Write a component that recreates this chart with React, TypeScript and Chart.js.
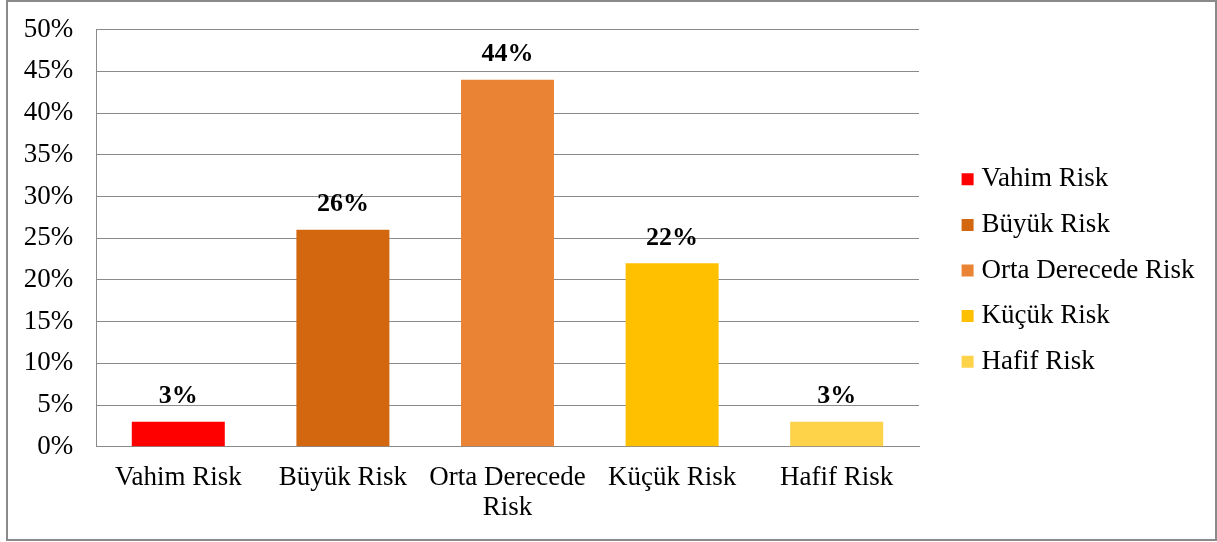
import React, { useEffect, useRef } from "react";
import { Chart, registerables } from "chart.js";

Chart.register(...registerables);

const categories: string[] = ["Vahim Risk", "Büyük Risk", "Orta Derecede Risk", "Küçük Risk", "Hafif Risk"];
const xTickLabels: string[][] = [["Vahim Risk"], ["Büyük Risk"], ["Orta Derecede", "Risk"], ["Küçük Risk"], ["Hafif Risk"]];
const values: number[] = [3, 26, 44, 22, 3];
const barColors: string[] = ["#FF0000", "#D2670F", "#EA8333", "#FFC000", "#FFD349"];
const yTicks: number[] = [0, 5, 10, 15, 20, 25, 30, 35, 40, 45, 50];

const FONT = '"Liberation Serif", "Times New Roman", serif';
const GRID = "#8a8a8a";
const FS = 27;

const CW = 1207;
const CH = 537;
const LEGEND_LEFT = 940.5;
const LEGEND_PAD = 18.6;

const valueLabels = {
  id: "valueLabels",
  afterDatasetsDraw(chart: any) {
    const ctx = chart.ctx;
    const meta = chart.getDatasetMeta(0);
    ctx.save();
    ctx.font = `bold 26px ${FONT}`;
    ctx.fillStyle = "#000";
    ctx.textAlign = "center";
    ctx.textBaseline = "alphabetic";
    meta.data.forEach((bar: any, i: number) => {
      ctx.fillText(values[i] + "%", bar.x, bar.y - 18.5);
    });
    ctx.restore();
  },
};

export default function App() {
  const ref = useRef<HTMLCanvasElement | null>(null);

  useEffect(() => {
    if (!ref.current) return;
    // measure the widest legend text to place the legend precisely
    const mctx = document.createElement("canvas").getContext("2d")!;
    mctx.font = `${FS}px ${FONT}`;
    const textW = Math.max(...categories.map((c) => mctx.measureText(c).width));
    const legendW = LEGEND_PAD + 1 + FS / 2 + textW + 10;
    const padRight = Math.max(0, CW - LEGEND_LEFT - legendW);

    const chart = new Chart(ref.current, {
      type: "bar",
      data: {
        labels: xTickLabels as any,
        datasets: [
          {
            data: values,
            backgroundColor: barColors,
            borderWidth: 0,
            barPercentage: 0.565,
            categoryPercentage: 1,
          },
        ],
      },
      options: {
        responsive: false,
        animation: false,
        events: [],
        color: "#000",
        layout: { padding: { top: 27.7, bottom: 10, left: 0, right: padRight } },
        font: { family: FONT, size: FS },
        plugins: {
          tooltip: { enabled: false },
          legend: {
            position: "right",
            align: "start",
            maxWidth: 1000,
            title: {
              display: true,
              text: "",
              color: "#000",
              font: { size: 1 },
              padding: { top: 116.3, bottom: 0 },
            },
            labels: {
              color: "#000",
              font: { family: FONT, size: FS },
              boxWidth: 1,
              boxHeight: 1,
              padding: LEGEND_PAD,
              generateLabels: () =>
                categories.map((c, i) => ({
                  text: c,
                  fillStyle: barColors[i],
                  strokeStyle: barColors[i],
                  fontColor: "#000",
                  lineWidth: 11,
                  hidden: false,
                  index: i,
                  datasetIndex: 0,
                })),
            },
          },
        },
        scales: {
          x: {
            type: "category",
            grid: { display: false, drawTicks: false },
            border: { display: true, color: GRID, width: 1 },
            ticks: {
              color: "#000",
              font: { family: FONT, size: FS, lineHeight: 1.133 },
              padding: 15.6,
              maxRotation: 0,
              autoSkip: false,
            },
            afterFit: (s: any) => {
              s.height = CH - 10 - 444.7;
            },
          },
          y: {
            min: 0,
            max: 50,
            grid: {
              color: GRID,
              lineWidth: 1,
              drawTicks: true,
              tickLength: 22.7,
              tickColor: "rgba(0,0,0,0)",
            },
            border: { display: true, color: GRID, width: 1 },
            afterBuildTicks: (s: any) => {
              s.ticks = yTicks.map((v) => ({ value: v }));
            },
            ticks: {
              color: "#000",
              font: { family: FONT, size: FS },
              padding: 0,
              callback: (v: any) => v + "%",
            },
            afterFit: (s: any) => {
              s.width = 88;
            },
          },
          yR: {
            axis: "y",
            position: "right",
            display: true,
            grid: { display: false, drawTicks: false },
            border: { display: false },
            ticks: { display: false },
            afterFit: (s: any) => {
              s.width = LEGEND_LEFT - 911;
            },
          },
        },
      },
      plugins: [valueLabels],
    } as any);
    return () => chart.destroy();
  }, []);

  return (
    <div
      style={{
        position: "absolute",
        left: 6,
        top: 0,
        width: 1211,
        height: 541,
        border: `2px solid ${GRID}`,
        boxSizing: "border-box",
        background: "#fff",
      }}
    >
      <canvas ref={ref} width={CW} height={CH} style={{ display: "block" }} />
    </div>
  );
}
